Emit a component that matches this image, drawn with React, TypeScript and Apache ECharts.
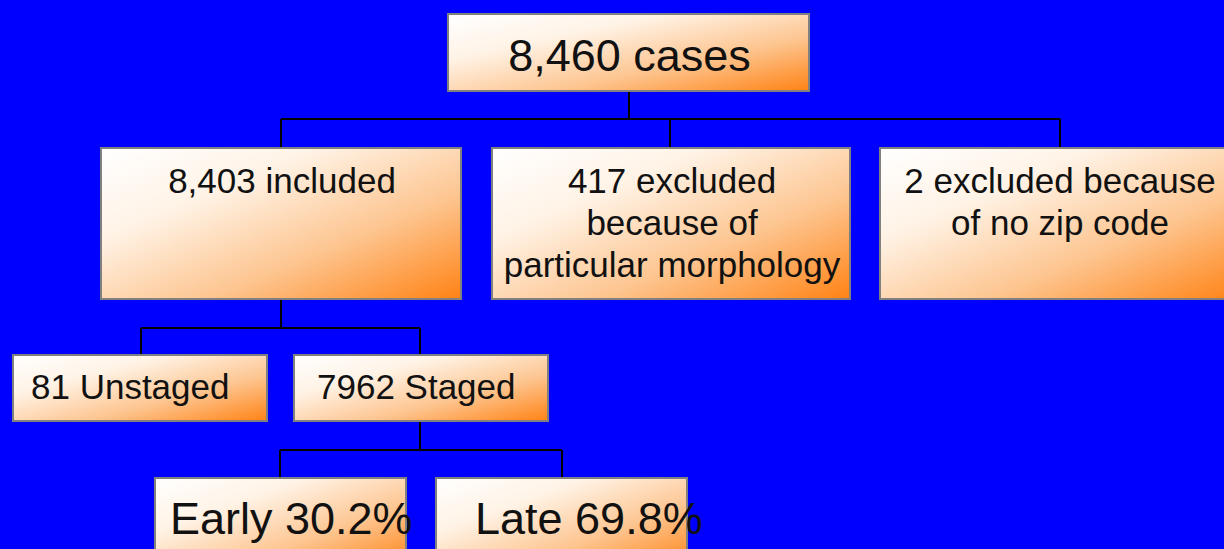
import React, { useEffect, useRef } from "react";
import * as echarts from "echarts";

// ---- content ----
const rootLabel = "8,460 cases";
const level1Labels = [
  ["8,403 included"],
  ["417 excluded", "because of", "particular morphology"],
  ["2 excluded because", "of no zip code"],
];
const level2Labels = ["81 Unstaged", "7962 Staged"];
const level3Labels = ["Early 30.2%", "Late 69.8%"];

// ---- layout (positions & sizes only) ----
type Box = { x: number; y: number; w: number; h: number };
const rootBox: Box = { x: 448, y: 14, w: 361, h: 77 };
const level1Boxes: Box[] = [
  { x: 101, y: 148, w: 360, h: 151 },
  { x: 492, y: 148, w: 358, h: 151 },
  { x: 880, y: 148, w: 360, h: 151 },
];
const level2Boxes: Box[] = [
  { x: 13, y: 355, w: 254, h: 66 },
  { x: 294, y: 355, w: 254, h: 66 },
];
const level2TextX = [31, 317];
const level3Boxes: Box[] = [
  { x: 155, y: 478, w: 251, h: 90 },
  { x: 436, y: 478, w: 251, h: 90 },
];
const level3TextX = [170, 475];

const connectors: number[][][] = [
  [[629, 91], [629, 119]],
  [[281, 119], [1060, 119]],
  [[281, 119], [281, 148]],
  [[670, 119], [670, 148]],
  [[1060, 119], [1060, 148]],
  [[281, 299], [281, 328]],
  [[141, 328], [420, 328]],
  [[141, 328], [141, 355]],
  [[420, 328], [420, 355]],
  [[420, 421], [420, 450]],
  [[280, 450], [562, 450]],
  [[280, 450], [280, 478]],
  [[562, 450], [562, 478]],
];

const FONT = "'Liberation Sans', Arial, sans-serif";

function gradient() {
  return new echarts.graphic.LinearGradient(0, 0, 1, 1, [
    { offset: 0, color: "#ffffff" },
    { offset: 0.3, color: "#fff3e6" },
    { offset: 0.65, color: "#fdc590" },
    { offset: 1, color: "#ff8214" },
  ]);
}

function rectEl(b: Box) {
  return {
    type: "rect",
    shape: { x: b.x, y: b.y, width: b.w, height: b.h },
    style: { fill: gradient(), stroke: "#808080", lineWidth: 2 },
    z: 2,
  };
}

function textEl(text: string, x: number, y: number, size: number, align: string) {
  return {
    type: "text",
    x,
    y,
    z: 5,
    style: {
      text,
      fill: "#111111",
      font: `normal ${size}px ${FONT}`,
      textAlign: align,
      textVerticalAlign: "middle",
      verticalAlign: "middle",
    },
  };
}

export default function App() {
  const ref = useRef<HTMLDivElement>(null);
  useEffect(() => {
    if (!ref.current) return;
    const chart = echarts.init(ref.current, undefined, { renderer: "svg" });
    const els: any[] = [];
    connectors.forEach((seg) => {
      els.push({
        type: "line",
        shape: { x1: seg[0][0], y1: seg[0][1], x2: seg[1][0], y2: seg[1][1] },
        style: { stroke: "#000000", lineWidth: 2 },
        z: 1,
      });
    });
    els.push(rectEl(rootBox));
    els.push(textEl(rootLabel, rootBox.x + rootBox.w / 2 + 1, 55, 45, "center"));
    level1Boxes.forEach((b, i) => {
      els.push(rectEl(b));
      const cx = i === 2 ? 1060 : b.x + b.w / 2 + 1;
      level1Labels[i].forEach((line, j) => {
        els.push(textEl(line, cx, 180 + j * 42, 35, "center"));
      });
    });
    level2Boxes.forEach((b, i) => {
      els.push(rectEl(b));
      els.push(textEl(level2Labels[i], level2TextX[i], 386, 35, "left"));
    });
    level3Boxes.forEach((b, i) => {
      els.push(rectEl(b));
    });
    level3Boxes.forEach((b, i) => {
      els.push(textEl(level3Labels[i], level3TextX[i], 518, 45, "left"));
    });
    chart.setOption({
      animation: false,
      backgroundColor: "#0000ff",
      graphic: { elements: els },
    });
    return () => chart.dispose();
  }, []);
  return (
    <div
      ref={ref}
      style={{ position: "fixed", left: 0, top: 0, width: 1224, height: 549 }}
    />
  );
}
